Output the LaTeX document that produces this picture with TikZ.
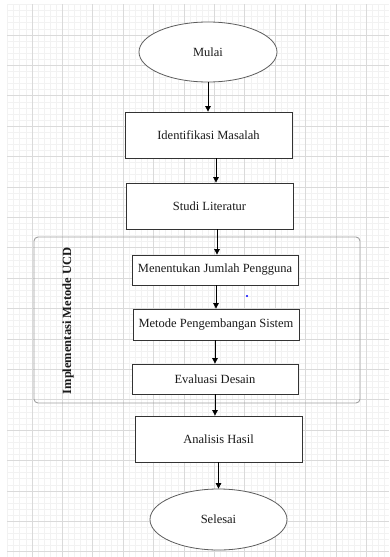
\documentclass[tikz,border=0pt]{standalone}
\usepackage{fontspec}
\setmainfont{Liberation Serif}
\usetikzlibrary{shapes.geometric,arrows.meta}
\definecolor{minorgrid}{HTML}{F2F2F2}
\definecolor{majorgrid}{HTML}{DADADA}
\definecolor{boxline}{HTML}{333333}
\definecolor{grpline}{HTML}{A0A0A0}
\definecolor{txt}{HTML}{1A1A1A}
\tikzset{
  minorln/.style={draw=minorgrid,line width=0.7pt},
  majorln/.style={draw=majorgrid,line width=0.9pt},
  stepbox/.style={draw=boxline,line width=0.8pt,fill=white,inner sep=0pt,
    font=\fontsize{12.5}{14}\selectfont,text=txt},
  terminal/.style={ellipse,draw=boxline!80,line width=0.8pt,fill=white,inner sep=0pt,
    font=\fontsize{12.5}{14}\selectfont,text=txt},
  arr/.style={draw=black,line width=0.8pt,-{Triangle[length=5.5pt,width=5.5pt]}},
  grp/.style={draw=grpline,line width=0.9pt,rounded corners=4pt},
  grplabel/.style={rotate=90,font=\fontsize{12.5}{14}\selectfont\bfseries,text=txt,inner sep=0pt}
}
\begin{document}
\begin{tikzpicture}[x=1pt,y=-1pt]
\useasboundingbox (0,0) rectangle (389,557);
\fill[white] (0,0) rectangle (389,557);
% grid
\begin{scope}
\clip (7,4) rectangle (389,557);
\foreach \k [evaluate=\k as \x using 32+6.08*\k] in {-4,...,58}
  \draw[minorln] (\x,4) -- (\x,557);
\foreach \k [evaluate=\k as \y using 35+6.08*\k] in {-5,...,85}
  \draw[minorln] (7,\y) -- (389,\y);
\foreach \k [evaluate=\k as \x using 32+30.4*\k] in {0,...,11}
  \draw[majorln] (\x,4) -- (\x,557);
\foreach \k [evaluate=\k as \y using 35+30.4*\k] in {0,...,17}
  \draw[majorln] (7,\y) -- (389,\y);
\end{scope}

% group
\draw[grp] (34,237) rectangle (360,403);
\node[grplabel] (grplbl) at (68,321) {Implementasi Metode UCD};

% nodes
\node[terminal,minimum width=138pt,minimum height=60pt] (mulai) at (208,52) {Mulai};
\node[stepbox,minimum width=167pt,minimum height=46pt] (ident) at (208.5,135) {Identifikasi Masalah};
\node[stepbox,minimum width=167pt,minimum height=46pt] (studi) at (209.5,206) {Studi Literatur};
\node[stepbox,minimum width=166pt,minimum height=30pt] (menentukan) at (215,270) {Menentukan Jumlah Pengguna};
\node[stepbox,minimum width=166pt,minimum height=31pt] (metode) at (216,324.5) {Metode Pengembangan Sistem};
\node[stepbox,minimum width=166pt,minimum height=30pt] (evaluasi) at (215,379) {Evaluasi Desain};
\node[stepbox,minimum width=167pt,minimum height=46pt] (analisis) at (218.5,439) {Analisis Hasil};
\node[terminal,minimum width=137pt,minimum height=61pt] (selesai) at (218.5,519.5) {Selesai};

% small blue dot
\fill[blue] (247,296) circle (1.1pt);

% connectors
\draw[arr] (mulai.south) -- (mulai.south |- ident.north);
\draw[arr] ([xshift=7.5pt]ident.south) -- ([xshift=7.5pt]ident.south |- studi.north);
\draw[arr] ([xshift=7.5pt]studi.south) -- ([xshift=7.5pt]studi.south |- menentukan.north);
\draw[arr] ([xshift=1pt]menentukan.south) -- ([xshift=1pt]menentukan.south |- metode.north);
\draw[arr] ([xshift=-1pt]metode.south) -- ([xshift=-1pt]metode.south |- evaluasi.north);
\draw[arr] (evaluasi.south) -- (evaluasi.south |- analisis.north);
\draw[arr] (analisis.south) -- (analisis.south |- selesai.north);
\end{tikzpicture}
\end{document}
